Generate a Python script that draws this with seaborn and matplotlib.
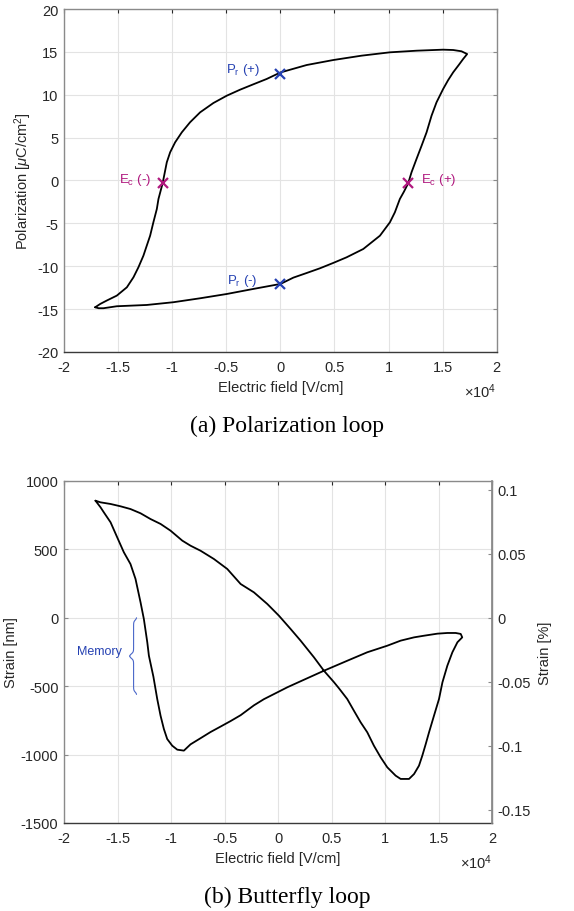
import numpy as np
import pandas as pd
import seaborn as sns
import matplotlib.pyplot as plt

''' data : polarization loop (E in x10^4 V/cm, P in uC/cm^2) '''
pe_field = [-1.712, -1.68, -1.635, -1.512, -1.235, -0.989, -0.742, -0.496, -0.25, 0.0,
            0.12, 0.243, 0.366, 0.488, 0.612, 0.766, 0.92, 1.012, 1.058, 1.104,
            1.142, 1.181, 1.212, 1.258, 1.305, 1.351, 1.397, 1.443, 1.504, 1.55,
            1.597, 1.65, 1.689, 1.726,
            1.674, 1.597, 1.504, 1.258, 1.012, 0.75, 0.488, 0.243, 0.0,
            -0.127, -0.25, -0.373, -0.496, -0.619, -0.742, -0.835, -0.911,
            -0.973, -1.019, -1.05, -1.088, -1.127, -1.142, -1.174, -1.204,
            -1.235, -1.266, -1.312, -1.358, -1.419, -1.512, -1.604, -1.665, -1.712]
pe_pol = [-14.79, -14.9, -14.9, -14.67, -14.52, -14.2, -13.74, -13.24, -12.65, -12.07,
          -11.33, -10.79, -10.24, -9.62, -8.96, -7.99, -6.44, -4.88, -3.71, -2.16,
          -1.3, -0.33, 0.96, 2.51, 4.06, 5.62, 7.56, 9.12, 10.67, 11.7,
          12.62, 13.5, 14.17, 14.75,
          15.07, 15.22, 15.26, 15.14, 14.95, 14.56, 14.05, 13.47, 12.6,
          11.84, 11.22, 10.59, 9.89, 9.04, 7.95, 6.79, 5.62,
          4.45, 3.29, 2.12, -0.3, -2.16, -3.32, -4.88, -6.44,
          -7.6, -8.77, -10.12, -11.29, -12.46, -13.43, -14.0, -14.4, -14.79]

''' key points '''
pt_labels = ['P$_\\mathrm{r}$ (+)', 'P$_\\mathrm{r}$ (-)', 'E$_\\mathrm{c}$ (-)', 'E$_\\mathrm{c}$ (+)']
pt_field = [0.0, 0.0, -1.088, 1.181]
pt_pol = [12.45, -12.07, -0.3, -0.33]
pt_colors = ['#2541B2', '#2541B2', '#B0187E', '#B0187E']

''' data : butterfly loop (E in x10^4 V/cm, strain in nm) '''
bf_field = [-1.706, -1.659, -1.565, -1.472, -1.379, -1.285, -1.192, -1.098, -1.005,
            -0.895, -0.818, -0.724, -0.6, -0.475, -0.35, -0.226, -0.101, 0.008,
            0.117, 0.21, 0.335, 0.428, 0.521, 0.568, 0.646, 0.708, 0.771, 0.833,
            0.895, 0.958, 1.02, 1.098, 1.145, 1.223, 1.27, 1.316, 1.347, 1.379,
            1.41, 1.456, 1.503, 1.535, 1.581, 1.628, 1.675, 1.72,
            1.706, 1.659, 1.581, 1.488, 1.363, 1.27, 1.145, 1.02, 0.833, 0.646,
            0.428, 0.21, 0.086, -0.007, -0.133, -0.226, -0.35, -0.444, -0.537,
            -0.631, -0.724, -0.818, -0.88, -0.942, -0.989, -1.036, -1.067,
            -1.098, -1.129, -1.165, -1.207, -1.222, -1.254, -1.285,
            -1.332, -1.379, -1.441, -1.503, -1.565, -1.628, -1.659, -1.706]
bf_strain = [856, 844, 832, 815, 795, 764, 722, 686, 637,
             564, 527, 490, 430, 357, 247, 186, 101, 15,
             -82, -167, -289, -387, -470, -515, -594, -679, -764, -837,
             -935, -1020, -1093, -1154, -1178, -1178, -1142, -1081, -1008, -923,
             -837, -716, -594, -472, -350, -252, -179, -143,
             -118, -111, -111, -116, -131, -143, -167, -204, -252, -314,
             -387, -464, -508, -545, -595, -640, -712, -755, -795,
             -835, -880, -925, -971, -964, -935, -886, -813,
             -716, -594, -430, -277, -179, -9, 113,
             284, 393, 479, 588, 698, 771, 808, 856]

# nm -> % (sample thickness ~0.935 mm)
strain_scale = 0.1069 / 1000

memory_top = 0
memory_bottom = -560

pe = pd.DataFrame({'E': pe_field, 'P': pe_pol})
bf = pd.DataFrame({'E': bf_field, 'S': bf_strain})

sns.set_theme(style='whitegrid')
plt.rcParams['font.family'] = ['Liberation Sans', 'DejaVu Sans']
plt.rcParams['mathtext.fontset'] = 'custom'
plt.rcParams['mathtext.rm'] = 'Liberation Sans'
plt.rcParams['mathtext.it'] = 'Liberation Sans:italic'
plt.rcParams['axes.unicode_minus'] = False

grid_c = '#e3e3e3'
spine_c = '#8a8a8a'
txt_c = '#262626'
fs = 10.5
ann_fs = 9.5
x_ticks = np.arange(-2, 2.01, 0.5)
x_ticklabels = ['-2', '-1.5', '-1', '-0.5', '0', '0.5', '1', '1.5', '2']


def style_axes(ax):
    ax.set_facecolor('white')
    ax.grid(True, color=grid_c, linewidth=0.8)
    for s in ax.spines.values():
        s.set_visible(True)
        s.set_color(spine_c)
        s.set_linewidth(1.0)
    ax.spines['bottom'].set_color('#3a3a3a')
    ax.tick_params(direction='in', length=3, width=0.8, colors=txt_c,
                   labelsize=fs, top=True, right=True)
    ax.tick_params(axis='x', pad=6)
    ax.tick_params(axis='y', color=spine_c, pad=4)


fig = plt.figure(figsize=(5.74, 9.12), dpi=100)

''' (a) polarization loop '''
ax1 = fig.add_axes([0.1115, 0.613, 0.754, 0.376])
sns.lineplot(data=pe, x='E', y='P', sort=False, estimator=None, color='black',
             linewidth=1.3, ax=ax1)
for lab, e, p, c in zip(pt_labels, pt_field, pt_pol, pt_colors):
    ax1.plot(e, p, marker='x', color=c, markersize=7, markeredgewidth=1.6)
ax1.text(-0.19, 13.0, pt_labels[0], color=pt_colors[0], fontsize=ann_fs, ha='right', va='center')
ax1.text(-0.21, -11.6, pt_labels[1], color=pt_colors[1], fontsize=ann_fs, ha='right', va='center')
ax1.text(-1.20, 0.2, pt_labels[2], color=pt_colors[2], fontsize=ann_fs, ha='right', va='center')
ax1.text(1.30, 0.2, pt_labels[3], color=pt_colors[3], fontsize=ann_fs, ha='left', va='center')

ax1.set_xlim(-2, 2)
ax1.set_ylim(-20, 20)
ax1.set_xticks(x_ticks)
ax1.set_xticklabels(x_ticklabels)
ax1.set_yticks(np.arange(-20, 21, 5))
ax1.set_xlabel('Electric field [V/cm]', fontsize=fs, color=txt_c, labelpad=4)
ax1.set_ylabel('Polarization [$\\mu$C/cm$^2$]', fontsize=fs, color=txt_c, labelpad=2)
style_axes(ax1)
ax1.text(1.0, -0.112, '$\\times$10$^4$', transform=ax1.transAxes, ha='right',
         va='center', fontsize=fs, color=txt_c)

''' (b) butterfly loop '''
ax2 = fig.add_axes([0.1115, 0.0965, 0.746, 0.375])
sns.lineplot(data=bf, x='E', y='S', sort=False, estimator=None, color='black',
             linewidth=1.3, ax=ax2)
ax2.set_xlim(-2, 2)
ax2.set_ylim(-1500, 1000)
ax2.set_xticks(x_ticks)
ax2.set_xticklabels(x_ticklabels)
ax2.set_yticks(np.arange(-1500, 1001, 500))
ax2.set_xlabel('Electric field [V/cm]', fontsize=fs, color=txt_c, labelpad=4)
ax2.set_ylabel('Strain [nm]', fontsize=fs, color=txt_c, labelpad=2)
style_axes(ax2)
ax2.tick_params(right=False)
ax2.text(1.0, -0.113, '$\\times$10$^4$', transform=ax2.transAxes, ha='right',
         va='center', fontsize=fs, color=txt_c)

# memory brace
def sig(z):
    return 1 / (1 + np.exp(-z))

x_end, x_body, x_tip = -1.32, -1.35, -1.39
u = np.linspace(0, 1, 60)
xh = x_body + (x_end - x_body) * (1 - sig(40 * (u - 0.06))) + (x_tip - x_body) * sig(40 * (u - 0.94))
y_mid = (memory_top + memory_bottom) / 2
y_top_half = memory_top + (y_mid - memory_top) * u
y_bot_half = memory_bottom + (y_mid - memory_bottom) * u
ax2.plot(xh, y_top_half, color='#4a67c9', linewidth=0.8)
ax2.plot(xh, y_bot_half, color='#4a67c9', linewidth=0.8)
ax2.text(-1.46, -245, 'Memory', color='#2541B2', fontsize=9, ha='right', va='center')

ax3 = ax2.twinx()
ax3.set_ylim(-1500 * strain_scale, 1000 * strain_scale)
ax3.set_yticks([-0.15, -0.1, -0.05, 0, 0.05, 0.1])
ax3.set_yticklabels(['-0.15', '-0.1', '-0.05', '0', '0.05', '0.1'])
ax3.grid(False)
ax3.tick_params(direction='in', length=3, width=0.8, color=spine_c,
                labelcolor=txt_c, labelsize=fs, pad=4)
for s in ax3.spines.values():
    s.set_visible(False)
ax3.spines['right'].set_visible(True)
ax3.spines['right'].set_color(spine_c)
ax3.set_ylabel('Strain [%]', fontsize=fs, color=txt_c, labelpad=5)

''' captions '''
fig.text(0.5, 0.532, '(a) Polarization loop', family='Liberation Serif',
         fontsize=17, ha='center', va='center', color='black')
fig.text(0.5, 0.0155, '(b) Butterfly loop', family='Liberation Serif',
         fontsize=17, ha='center', va='center', color='black')

plt.savefig('out.png', dpi=100)
